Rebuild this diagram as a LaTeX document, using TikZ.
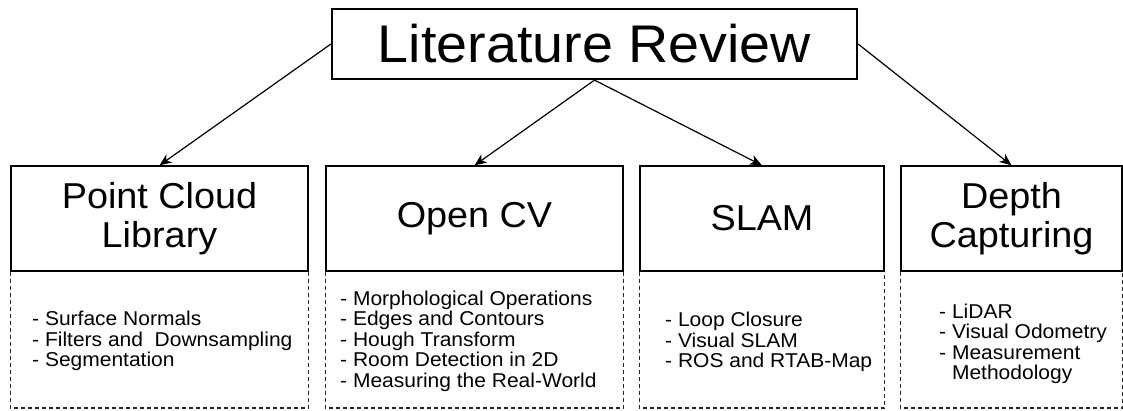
\documentclass[tikz,border=0pt]{standalone}
\usepackage{fontspec}
\setmainfont{Liberation Sans}[FakeStretch=1.05]
\usetikzlibrary{arrows.meta}
\begin{document}
\begin{tikzpicture}[x=1pt,y=-1pt,
  titlebox/.style={draw, line width=2.2pt, minimum width=525pt, minimum height=70pt,
    inner sep=0pt, font=\fontsize{53}{60}\selectfont},
  headbox/.style={draw, line width=1.3pt, minimum height=105pt, inner sep=0pt,
    align=center, font=\fontsize{36}{38.5}\selectfont},
  items/.style={anchor=west, align=left, inner sep=0pt, font=\fontsize{20}{20.5}\selectfont},
  lowerpart/.style={line width=1.2pt, black!85, dash pattern=on 4pt off 3pt},
  link/.style={line width=1.2pt, -{Stealth[length=12pt,width=10pt,inset=3.5pt]}}]
\useasboundingbox (0,0) rectangle (1123,410);

% root
\node[titlebox] (lr) at (594.5,44) {Literature Review};

% topic headers
\node[headbox, minimum width=297pt] (pcl)   at (159.5,218.5) {Point Cloud\\Library};
\node[headbox, minimum width=297pt] (ocv)   at (474.5,218.5) {Open CV};
\node[headbox, minimum width=244pt] (slam)  at (762,218.5)   {SLAM};
\node[headbox, minimum width=221pt] (depth) at (1011.5,218.5) {Depth\\Capturing};

% dashed lower sections
\coordinate (base) at (0,408);
\foreach \n in {pcl,ocv,slam,depth}
  \draw[lowerpart] (\n.south west) -- (\n.south west |- base)
    -- (\n.south east |- base) -- (\n.south east);

% topic contents
\node[items] (pclitems) at (32,341)
  {- Surface Normals\\- Filters and\ \ Downsampling\\- Segmentation};
\node[items] (ocvitems) at (340,341)
  {- Morphological Operations\\- Edges and Contours\\- Hough Transform\\- Room Detection in 2D\\- Measuring the Real-World};
\node[items] (slamitems) at (665,342)
  {- Loop Closure\\- Visual SLAM\\- ROS and RTAB-Map};
\node[items] (depthitems) at (939,344)
  {- LiDAR\\- Visual Odometry\\- Measurement\\\phantom{- }Methodology};

% connectors
\draw[link] (lr.west)  -- (pcl.north);
\draw[link] (lr.south) -- (ocv.north);
\draw[link] (lr.south) -- (slam.north);
\draw[link] (lr.east)  -- (depth.north);
\end{tikzpicture}
\end{document}
